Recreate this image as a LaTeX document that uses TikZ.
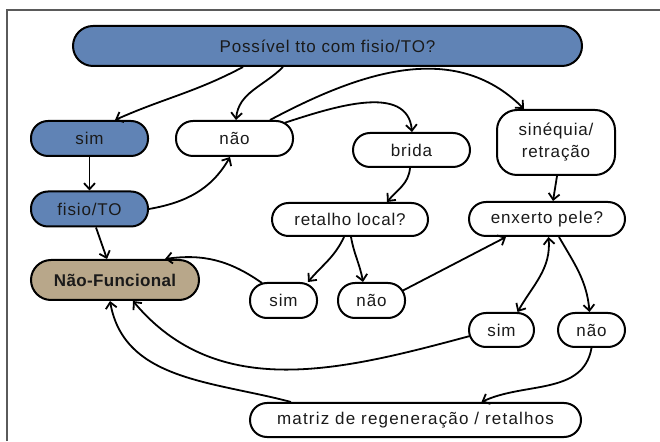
\documentclass[tikz,border=0pt]{standalone}
\usepackage{fontspec}
\newfontfamily\labfont[LetterSpace=5]{Liberation Sans}
\newfontfamily\labwide[LetterSpace=7]{Liberation Sans}
\newfontfamily\labbold[LetterSpace=2]{Liberation Sans Bold}
\usetikzlibrary{arrows.meta}
\definecolor{boxblue}{HTML}{6083B5}
\definecolor{boxtan}{HTML}{B8A78A}
\definecolor{framegray}{HTML}{5A5A5A}
\definecolor{inktext}{HTML}{1A1A1A}

\tikzset{
  pill/.style={draw=black, line width=2pt, fill=white, rounded corners=17pt,
    minimum height=35pt, inner sep=0pt, text=inktext,
    font=\labfont\fontsize{17}{20}\selectfont},
  bluebox/.style={pill, fill=boxblue},
  tip/.tip={Straight Barb[length=6pt,width=11pt]},
  link/.style={line width=1.8pt, -tip},
  twolink/.style={line width=1.8pt, tip-tip},
}

\begin{document}
\begin{tikzpicture}[x=1pt,y=1pt]
\useasboundingbox (0,0) rectangle (660,441);

% page frame
\draw[framegray, line width=1.3pt] (7,0) -- (7,431) -- (660,431);

% decision boxes
\node[bluebox, minimum width=509pt, minimum height=40pt, rounded corners=20pt] (top) at (327.5,395) {Possível tto com fisio/TO?};
\node[bluebox, minimum width=117pt] (sim1) at (89.5,302.5) {sim};
\node[pill, minimum width=117pt] (nao1) at (234.5,302.5) {não};
\node[pill, minimum width=117pt, minimum height=34pt] (brida) at (411.5,291) {brida};
\node[pill, minimum width=118pt, minimum height=65pt, rounded corners=20pt, align=center,
      font=\labfont\fontsize{17}{22}\selectfont] (sin) at (556,298.5) {sinéquia/\\retração};
\node[bluebox, minimum width=117pt] (fisio) at (89.5,232) {fisio/TO};
\node[pill, minimum width=156pt, minimum height=33pt, rounded corners=16.5pt] (ret) at (350,221.5) {retalho local?};
\node[pill, minimum width=156pt, minimum height=34pt] (enx) at (547,222) {enxerto pele?};
\node[pill, fill=boxtan, minimum width=168pt, minimum height=40pt, rounded corners=20pt,
      font=\labbold\fontsize{17}{20}\selectfont] (nf) at (115,161) {Não-Funcional};
\node[pill, minimum width=67pt] (sim2) at (283.5,140.5) {sim};
\node[pill, minimum width=67pt] (nao2) at (371.5,140.5) {não};
\node[pill, minimum width=65pt, minimum height=34pt] (sim3) at (501.5,111) {sim};
\node[pill, minimum width=67pt, minimum height=34pt] (nao3) at (591.5,111) {não};
\node[pill, minimum width=331pt, minimum height=34pt,
      font=\labwide\fontsize{17}{20}\selectfont] (matriz) at (415.5,21) {matriz de regeneração / retalhos};

% connectors
\draw[link] ([xshift=-84.5pt]top.south) to[out=-152,in=24] ([xshift=25.5pt]sim1.north);
\draw[link] ([xshift=-44.5pt]top.south) to[out=-135,in=85] ([xshift=1.5pt]nao1.north);
\draw[link] ([xshift=35.5pt]nao1.north) to[out=28,in=135] ([xshift=-32pt]sin.north);
\draw[link] ([xshift=50.5pt,yshift=-2.7pt]nao1.north) to[out=18,in=95] ([xshift=0.5pt]brida.north);
\draw[link] (sim1.south) -- (fisio.north);
\draw[link] (fisio.east) to[out=10,in=-120] ([xshift=-4.5pt]nao1.south);
\draw[link] ([xshift=6.5pt]fisio.south) -- ([xshift=-8pt]nf.north);
\draw[link] ([xshift=-1.5pt]brida.south) to[out=-95,in=50] ([xshift=37pt]ret.north);
\draw[link] ([xshift=1pt]sin.south) -- ([xshift=6pt]enx.north);
\draw[link] ([xshift=-6pt]ret.south) to[out=-115,in=50] ([xshift=24.5pt]sim2.north);
\draw[link] ([xshift=1pt]ret.south) to[out=-80,in=100] ([xshift=-8.5pt]nao2.north);
\draw[link] ([xshift=-21.5pt,yshift=-1pt]sim2.north) to[out=145,in=8] ([xshift=50pt]nf.north);
\draw[link] ([xshift=-3pt,yshift=10pt]nao2.east) -- ([xshift=-41pt]enx.south);
\draw[twolink] ([xshift=1.5pt]enx.south) to[out=-85,in=60] ([xshift=16pt]sim3.north);
\draw[link] ([xshift=12pt]enx.south) to[out=-60,in=95] ([xshift=-2pt]nao3.north);
\draw[link] ([xshift=2pt,yshift=-6pt]sim3.west) to[out=195,in=-50] ([xshift=18pt]nf.south);
\draw[link] (nao3.south) to[out=-100,in=25] ([xshift=66pt]matriz.north);
\draw[link] ([xshift=-124.5pt]matriz.north) to[out=165,in=-80] ([xshift=-5pt]nf.south);
\end{tikzpicture}
\end{document}
